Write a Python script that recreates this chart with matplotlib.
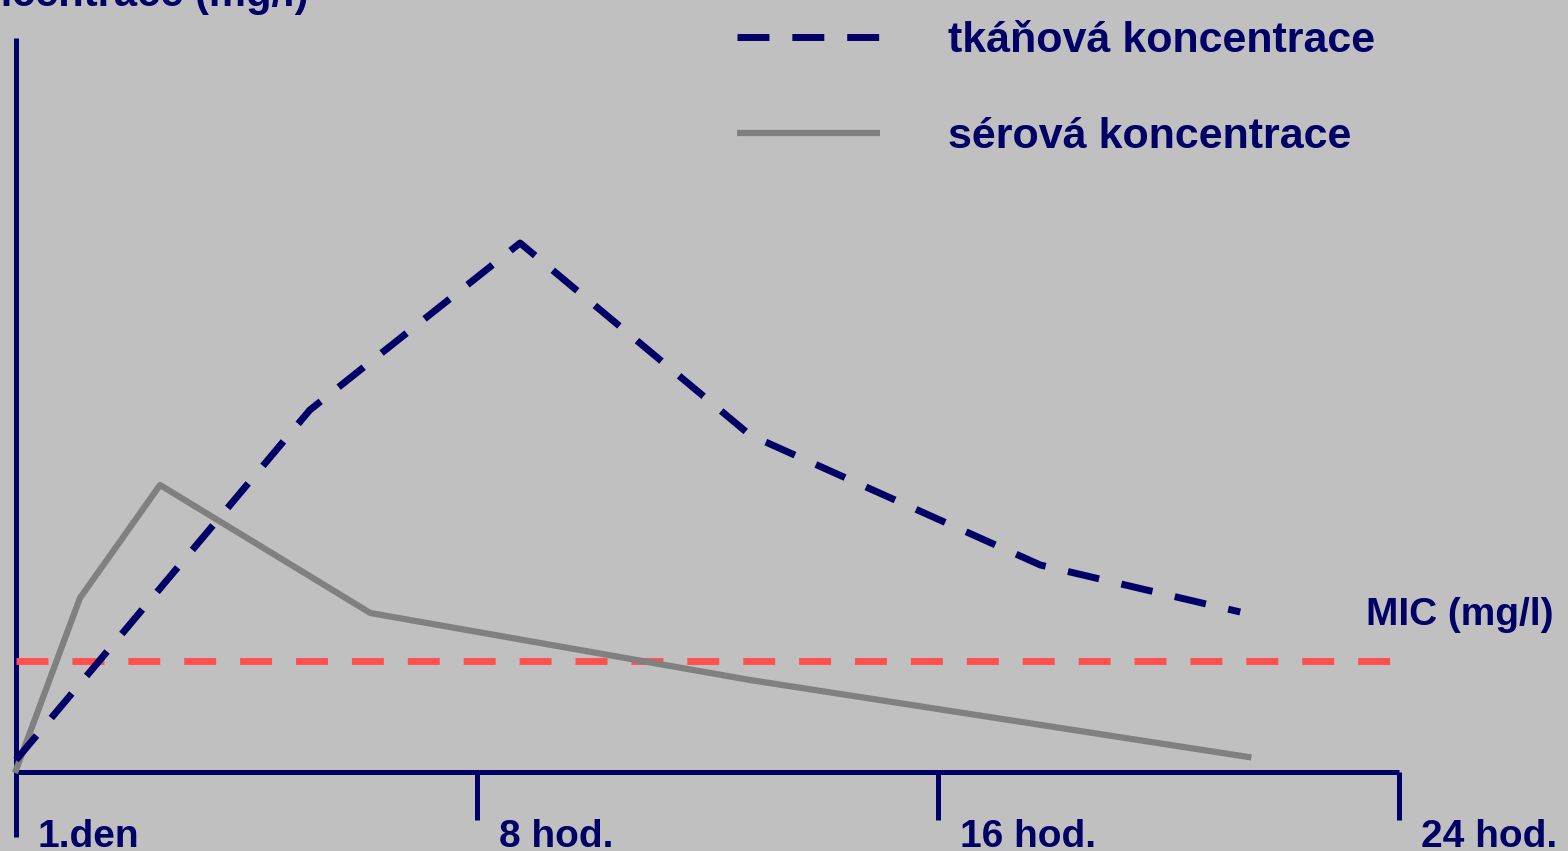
#!/usr/bin/env python3
import matplotlib
matplotlib.use("Agg")
import matplotlib.pyplot as plt

# time in hours after the first dose, concentration in arbitrary units
tissue_hours = [0, 5.1, 8.75, 12.74, 17.78, 21.25]
tissue_conc = [0.12, 3.62, 5.29, 3.37, 2.07, 1.60]

serum_hours = [0, 1.11, 2.5, 6.15, 12.74, 21.39]
serum_conc = [0.02, 1.74, 2.87, 1.59, 0.92, 0.15]

mic_level = 1.11

tick_hours = [0, 8, 16, 24]
tick_labels = ["1.den", "8 hod.", "16 hod.", "24 hod."]

legend_labels = ["tkáňová koncentrace", "sérová koncentrace"]
y_label = "koncentrace (mg/l)"
mic_label = "MIC (mg/l)"

NAVY = "#000066"
GRAY = "#808080"
RED = "#ff5050"
BG = "#c0c0c0"
FONT = ["Liberation Sans", "DejaVu Sans"]

plt.rcParams["font.family"] = FONT
plt.rcParams["font.weight"] = "bold"

fig = plt.figure(figsize=(15.68, 8.51), dpi=100, facecolor=BG)
ax = fig.add_axes([0, 0, 1, 1])
ax.set_facecolor(BG)
ax.set_xlim(-0.278, 26.94)
ax.set_ylim(-0.79, 7.72)
ax.axis("off")

# axes drawn by hand, like the slide
ax.plot([0, 0], [-0.65, 7.34], color=NAVY, lw=3.6, solid_capstyle="butt")
ax.plot([0, tick_hours[-1]], [0, 0], color=NAVY, lw=3.6, solid_capstyle="butt")
for t in tick_hours[1:]:
    ax.plot([t, t], [0, -0.48], color=NAVY, lw=3.6, solid_capstyle="butt")
for t, lab in zip(tick_hours, tick_labels):
    ax.text(t + 0.38, -0.75, lab, color=NAVY, fontsize=28, fontweight="bold",
            ha="left", va="baseline")

# MIC line
ax.plot([0, 24], [mic_level, mic_level], color=RED, lw=5, dashes=(4.6, 3.45),
        solid_capstyle="butt", dash_capstyle="butt")
ax.text(0.991, 1 - 625 / 851, mic_label, transform=ax.transAxes, color=NAVY,
        fontsize=28, fontweight="bold", ha="right", va="baseline")

# concentration curves
ax.plot(serum_hours, serum_conc, color=GRAY, lw=4.5)
ax.plot(tissue_hours, tissue_conc, color=NAVY, lw=5, dashes=(4.6, 3.3),
        dash_capstyle="butt")

# legend, placed by hand
ax.plot([0.470, 0.561], [0.9565, 0.9565], transform=ax.transAxes, color=NAVY,
        lw=5, dashes=(4.6, 3.3), dash_capstyle="butt")
ax.plot([0.470, 0.561], [0.8437, 0.8437], transform=ax.transAxes, color=GRAY,
        lw=4.5, solid_capstyle="butt")
ax.text(0.6046, 0.9389, legend_labels[0], transform=ax.transAxes, color=NAVY,
        fontsize=31, fontweight="bold", ha="left", va="baseline")
ax.text(0.6046, 0.8261, legend_labels[1], transform=ax.transAxes, color=NAVY,
        fontsize=31, fontweight="bold", ha="left", va="baseline")

# y-axis title, cut off at the top edge in the original
ax.text(0.197, 0.993, y_label, transform=ax.transAxes, color=NAVY, fontsize=30,
        fontweight="bold", ha="right", va="baseline")

fig.savefig("out.png", dpi=100, facecolor=BG)
